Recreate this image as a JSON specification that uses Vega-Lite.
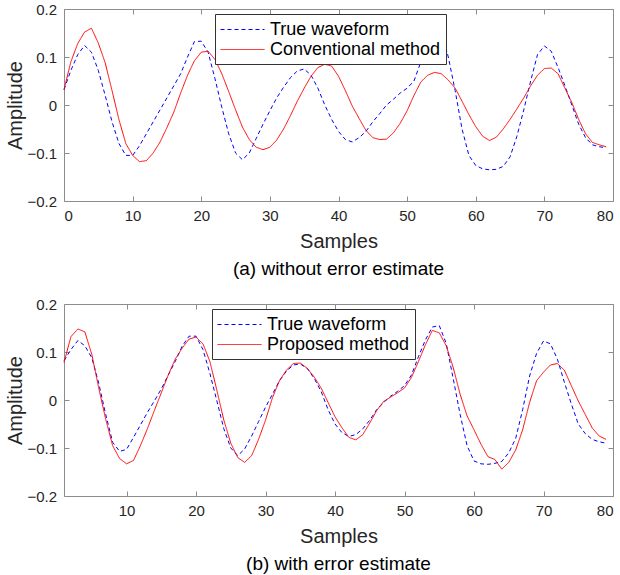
{
  "$schema": "https://vega.github.io/schema/vega-lite/v6.json",
  "padding": {"left": 5, "top": 2, "right": 0, "bottom": 0},
  "spacing": 18,
  "background": "white",
  "config": {
    "font": "Liberation Sans",
    "view": {"stroke": null},
    "axis": {
      "grid": false,
      "domainColor": "#8c8c8c",
      "tickColor": "#8c8c8c",
      "labelColor": "#262626",
      "titleColor": "#262626",
      "labelFontSize": 15,
      "titleFontSize": 20,
      "titleFontWeight": "normal",
      "tickSize": -5
    },
    "axisX": {"labelPadding": 12.5, "titlePadding": 8},
    "axisY": {"labelPadding": 12.5, "titlePadding": 1},
    "legend": {
      "orient": "none",
      "fillColor": "white",
      "strokeColor": "#333333",
      "padding": 5,
      "labelFontSize": 18,
      "labelColor": "#000000",
      "labelLimit": 400,
      "labelOffset": 29,
      "symbolType": "M-1,0H3.4",
      "symbolSize": 400,
      "symbolStrokeWidth": 1,
      "rowPadding": 0,
      "title": null
    }
  },
  "datasets": {
    "a": [
      {"s":0,"v":0.032,"k":"True waveform"},{"s":1,"v":0.072,"k":"True waveform"},{"s":2,"v":0.105,"k":"True waveform"},{"s":3,"v":0.124,"k":"True waveform"},{"s":4,"v":0.110,"k":"True waveform"},{"s":5,"v":0.072,"k":"True waveform"},{"s":6,"v":0.020,"k":"True waveform"},{"s":7,"v":-0.035,"k":"True waveform"},{"s":8,"v":-0.080,"k":"True waveform"},{"s":9,"v":-0.105,"k":"True waveform"},
      {"s":10,"v":-0.105,"k":"True waveform"},{"s":11,"v":-0.085,"k":"True waveform"},{"s":12,"v":-0.060,"k":"True waveform"},{"s":13,"v":-0.035,"k":"True waveform"},{"s":14,"v":-0.010,"k":"True waveform"},{"s":15,"v":0.015,"k":"True waveform"},{"s":16,"v":0.040,"k":"True waveform"},{"s":17,"v":0.065,"k":"True waveform"},{"s":18,"v":0.100,"k":"True waveform"},{"s":19,"v":0.132,"k":"True waveform"},
      {"s":20,"v":0.133,"k":"True waveform"},{"s":21,"v":0.110,"k":"True waveform"},{"s":22,"v":0.055,"k":"True waveform"},{"s":23,"v":-0.005,"k":"True waveform"},{"s":24,"v":-0.060,"k":"True waveform"},{"s":25,"v":-0.100,"k":"True waveform"},{"s":26,"v":-0.114,"k":"True waveform"},{"s":27,"v":-0.100,"k":"True waveform"},{"s":28,"v":-0.070,"k":"True waveform"},{"s":29,"v":-0.040,"k":"True waveform"},
      {"s":30,"v":-0.012,"k":"True waveform"},{"s":31,"v":0.015,"k":"True waveform"},{"s":32,"v":0.037,"k":"True waveform"},{"s":33,"v":0.057,"k":"True waveform"},{"s":34,"v":0.071,"k":"True waveform"},{"s":35,"v":0.075,"k":"True waveform"},{"s":36,"v":0.062,"k":"True waveform"},{"s":37,"v":0.035,"k":"True waveform"},{"s":38,"v":0.000,"k":"True waveform"},{"s":39,"v":-0.030,"k":"True waveform"},
      {"s":40,"v":-0.055,"k":"True waveform"},{"s":41,"v":-0.072,"k":"True waveform"},{"s":42,"v":-0.077,"k":"True waveform"},{"s":43,"v":-0.068,"k":"True waveform"},{"s":44,"v":-0.055,"k":"True waveform"},{"s":45,"v":-0.035,"k":"True waveform"},{"s":46,"v":-0.018,"k":"True waveform"},{"s":47,"v":0.000,"k":"True waveform"},{"s":48,"v":0.012,"k":"True waveform"},{"s":49,"v":0.025,"k":"True waveform"},
      {"s":50,"v":0.035,"k":"True waveform"},{"s":51,"v":0.050,"k":"True waveform"},{"s":52,"v":0.090,"k":"True waveform"},{"s":53,"v":0.125,"k":"True waveform"},{"s":54,"v":0.150,"k":"True waveform"},{"s":55,"v":0.155,"k":"True waveform"},{"s":56,"v":0.100,"k":"True waveform"},{"s":57,"v":0.030,"k":"True waveform"},{"s":58,"v":-0.050,"k":"True waveform"},{"s":59,"v":-0.105,"k":"True waveform"},
      {"s":60,"v":-0.126,"k":"True waveform"},{"s":61,"v":-0.133,"k":"True waveform"},{"s":62,"v":-0.135,"k":"True waveform"},{"s":63,"v":-0.134,"k":"True waveform"},{"s":64,"v":-0.128,"k":"True waveform"},{"s":65,"v":-0.108,"k":"True waveform"},{"s":66,"v":-0.065,"k":"True waveform"},{"s":67,"v":-0.010,"k":"True waveform"},{"s":68,"v":0.050,"k":"True waveform"},{"s":69,"v":0.105,"k":"True waveform"},
      {"s":70,"v":0.123,"k":"True waveform"},{"s":71,"v":0.112,"k":"True waveform"},{"s":72,"v":0.078,"k":"True waveform"},{"s":73,"v":0.040,"k":"True waveform"},{"s":74,"v":0.000,"k":"True waveform"},{"s":75,"v":-0.040,"k":"True waveform"},{"s":76,"v":-0.068,"k":"True waveform"},{"s":77,"v":-0.083,"k":"True waveform"},{"s":78,"v":-0.087,"k":"True waveform"},{"s":79,"v":-0.089,"k":"True waveform"},
      {"s":0,"v":0.032,"k":"Conventional method"},{"s":1,"v":0.090,"k":"Conventional method"},{"s":2,"v":0.128,"k":"Conventional method"},{"s":3,"v":0.152,"k":"Conventional method"},{"s":4,"v":0.160,"k":"Conventional method"},{"s":5,"v":0.129,"k":"Conventional method"},{"s":6,"v":0.088,"k":"Conventional method"},{"s":7,"v":0.030,"k":"Conventional method"},{"s":8,"v":-0.030,"k":"Conventional method"},{"s":9,"v":-0.080,"k":"Conventional method"},
      {"s":10,"v":-0.105,"k":"Conventional method"},{"s":11,"v":-0.118,"k":"Conventional method"},{"s":12,"v":-0.116,"k":"Conventional method"},{"s":13,"v":-0.100,"k":"Conventional method"},{"s":14,"v":-0.077,"k":"Conventional method"},{"s":15,"v":-0.047,"k":"Conventional method"},{"s":16,"v":-0.015,"k":"Conventional method"},{"s":17,"v":0.025,"k":"Conventional method"},{"s":18,"v":0.062,"k":"Conventional method"},{"s":19,"v":0.092,"k":"Conventional method"},
      {"s":20,"v":0.110,"k":"Conventional method"},{"s":21,"v":0.112,"k":"Conventional method"},{"s":22,"v":0.095,"k":"Conventional method"},{"s":23,"v":0.065,"k":"Conventional method"},{"s":24,"v":0.028,"k":"Conventional method"},{"s":25,"v":-0.010,"k":"Conventional method"},{"s":26,"v":-0.046,"k":"Conventional method"},{"s":27,"v":-0.072,"k":"Conventional method"},{"s":28,"v":-0.088,"k":"Conventional method"},{"s":29,"v":-0.093,"k":"Conventional method"},
      {"s":30,"v":-0.088,"k":"Conventional method"},{"s":31,"v":-0.073,"k":"Conventional method"},{"s":32,"v":-0.050,"k":"Conventional method"},{"s":33,"v":-0.022,"k":"Conventional method"},{"s":34,"v":0.008,"k":"Conventional method"},{"s":35,"v":0.035,"k":"Conventional method"},{"s":36,"v":0.060,"k":"Conventional method"},{"s":37,"v":0.078,"k":"Conventional method"},{"s":38,"v":0.085,"k":"Conventional method"},{"s":39,"v":0.081,"k":"Conventional method"},
      {"s":40,"v":0.060,"k":"Conventional method"},{"s":41,"v":0.030,"k":"Conventional method"},{"s":42,"v":-0.002,"k":"Conventional method"},{"s":43,"v":-0.028,"k":"Conventional method"},{"s":44,"v":-0.053,"k":"Conventional method"},{"s":45,"v":-0.068,"k":"Conventional method"},{"s":46,"v":-0.072,"k":"Conventional method"},{"s":47,"v":-0.071,"k":"Conventional method"},{"s":48,"v":-0.058,"k":"Conventional method"},{"s":49,"v":-0.038,"k":"Conventional method"},
      {"s":50,"v":-0.012,"k":"Conventional method"},{"s":51,"v":0.020,"k":"Conventional method"},{"s":52,"v":0.048,"k":"Conventional method"},{"s":53,"v":0.062,"k":"Conventional method"},{"s":54,"v":0.068,"k":"Conventional method"},{"s":55,"v":0.065,"k":"Conventional method"},{"s":56,"v":0.052,"k":"Conventional method"},{"s":57,"v":0.035,"k":"Conventional method"},{"s":58,"v":0.008,"k":"Conventional method"},{"s":59,"v":-0.020,"k":"Conventional method"},
      {"s":60,"v":-0.045,"k":"Conventional method"},{"s":61,"v":-0.065,"k":"Conventional method"},{"s":62,"v":-0.074,"k":"Conventional method"},{"s":63,"v":-0.067,"k":"Conventional method"},{"s":64,"v":-0.050,"k":"Conventional method"},{"s":65,"v":-0.030,"k":"Conventional method"},{"s":66,"v":-0.008,"k":"Conventional method"},{"s":67,"v":0.015,"k":"Conventional method"},{"s":68,"v":0.040,"k":"Conventional method"},{"s":69,"v":0.062,"k":"Conventional method"},
      {"s":70,"v":0.076,"k":"Conventional method"},{"s":71,"v":0.077,"k":"Conventional method"},{"s":72,"v":0.065,"k":"Conventional method"},{"s":73,"v":0.035,"k":"Conventional method"},{"s":74,"v":0.005,"k":"Conventional method"},{"s":75,"v":-0.030,"k":"Conventional method"},{"s":76,"v":-0.060,"k":"Conventional method"},{"s":77,"v":-0.078,"k":"Conventional method"},{"s":78,"v":-0.083,"k":"Conventional method"},{"s":79,"v":-0.087,"k":"Conventional method"}
    ],
    "b": [
      {"s":1,"v":0.082,"k":"True waveform"},{"s":2,"v":0.105,"k":"True waveform"},{"s":3,"v":0.124,"k":"True waveform"},{"s":4,"v":0.113,"k":"True waveform"},{"s":5,"v":0.088,"k":"True waveform"},{"s":6,"v":0.035,"k":"True waveform"},{"s":7,"v":-0.030,"k":"True waveform"},{"s":8,"v":-0.088,"k":"True waveform"},{"s":9,"v":-0.107,"k":"True waveform"},
      {"s":10,"v":-0.103,"k":"True waveform"},{"s":11,"v":-0.078,"k":"True waveform"},{"s":12,"v":-0.052,"k":"True waveform"},{"s":13,"v":-0.026,"k":"True waveform"},{"s":14,"v":-0.002,"k":"True waveform"},{"s":15,"v":0.023,"k":"True waveform"},{"s":16,"v":0.052,"k":"True waveform"},{"s":17,"v":0.080,"k":"True waveform"},{"s":18,"v":0.112,"k":"True waveform"},{"s":19,"v":0.133,"k":"True waveform"},
      {"s":20,"v":0.133,"k":"True waveform"},{"s":21,"v":0.105,"k":"True waveform"},{"s":22,"v":0.055,"k":"True waveform"},{"s":23,"v":-0.002,"k":"True waveform"},{"s":24,"v":-0.060,"k":"True waveform"},{"s":25,"v":-0.100,"k":"True waveform"},{"s":26,"v":-0.116,"k":"True waveform"},{"s":27,"v":-0.102,"k":"True waveform"},{"s":28,"v":-0.075,"k":"True waveform"},{"s":29,"v":-0.045,"k":"True waveform"},
      {"s":30,"v":-0.015,"k":"True waveform"},{"s":31,"v":0.012,"k":"True waveform"},{"s":32,"v":0.040,"k":"True waveform"},{"s":33,"v":0.060,"k":"True waveform"},{"s":34,"v":0.073,"k":"True waveform"},{"s":35,"v":0.075,"k":"True waveform"},{"s":36,"v":0.066,"k":"True waveform"},{"s":37,"v":0.045,"k":"True waveform"},{"s":38,"v":0.018,"k":"True waveform"},{"s":39,"v":-0.020,"k":"True waveform"},
      {"s":40,"v":-0.050,"k":"True waveform"},{"s":41,"v":-0.068,"k":"True waveform"},{"s":42,"v":-0.076,"k":"True waveform"},{"s":43,"v":-0.072,"k":"True waveform"},{"s":44,"v":-0.060,"k":"True waveform"},{"s":45,"v":-0.042,"k":"True waveform"},{"s":46,"v":-0.020,"k":"True waveform"},{"s":47,"v":-0.005,"k":"True waveform"},{"s":48,"v":0.008,"k":"True waveform"},{"s":49,"v":0.018,"k":"True waveform"},
      {"s":50,"v":0.030,"k":"True waveform"},{"s":51,"v":0.052,"k":"True waveform"},{"s":52,"v":0.090,"k":"True waveform"},{"s":53,"v":0.125,"k":"True waveform"},{"s":54,"v":0.152,"k":"True waveform"},{"s":55,"v":0.155,"k":"True waveform"},{"s":56,"v":0.118,"k":"True waveform"},{"s":57,"v":0.045,"k":"True waveform"},{"s":58,"v":-0.030,"k":"True waveform"},{"s":59,"v":-0.095,"k":"True waveform"},
      {"s":60,"v":-0.127,"k":"True waveform"},{"s":61,"v":-0.133,"k":"True waveform"},{"s":62,"v":-0.134,"k":"True waveform"},{"s":63,"v":-0.132,"k":"True waveform"},{"s":64,"v":-0.128,"k":"True waveform"},{"s":65,"v":-0.110,"k":"True waveform"},{"s":66,"v":-0.080,"k":"True waveform"},{"s":67,"v":-0.020,"k":"True waveform"},{"s":68,"v":0.050,"k":"True waveform"},{"s":69,"v":0.097,"k":"True waveform"},
      {"s":70,"v":0.123,"k":"True waveform"},{"s":71,"v":0.117,"k":"True waveform"},{"s":72,"v":0.085,"k":"True waveform"},{"s":73,"v":0.037,"k":"True waveform"},{"s":74,"v":-0.008,"k":"True waveform"},{"s":75,"v":-0.050,"k":"True waveform"},{"s":76,"v":-0.070,"k":"True waveform"},{"s":77,"v":-0.082,"k":"True waveform"},{"s":78,"v":-0.087,"k":"True waveform"},{"s":79,"v":-0.090,"k":"True waveform"},
      {"s":1,"v":0.078,"k":"Proposed method"},{"s":2,"v":0.132,"k":"Proposed method"},{"s":3,"v":0.148,"k":"Proposed method"},{"s":4,"v":0.142,"k":"Proposed method"},{"s":5,"v":0.095,"k":"Proposed method"},{"s":6,"v":0.025,"k":"Proposed method"},{"s":7,"v":-0.040,"k":"Proposed method"},{"s":8,"v":-0.095,"k":"Proposed method"},{"s":9,"v":-0.122,"k":"Proposed method"},
      {"s":10,"v":-0.133,"k":"Proposed method"},{"s":11,"v":-0.126,"k":"Proposed method"},{"s":12,"v":-0.095,"k":"Proposed method"},{"s":13,"v":-0.060,"k":"Proposed method"},{"s":14,"v":-0.022,"k":"Proposed method"},{"s":15,"v":0.015,"k":"Proposed method"},{"s":16,"v":0.052,"k":"Proposed method"},{"s":17,"v":0.085,"k":"Proposed method"},{"s":18,"v":0.108,"k":"Proposed method"},{"s":19,"v":0.127,"k":"Proposed method"},
      {"s":20,"v":0.131,"k":"Proposed method"},{"s":21,"v":0.117,"k":"Proposed method"},{"s":22,"v":0.080,"k":"Proposed method"},{"s":23,"v":0.020,"k":"Proposed method"},{"s":24,"v":-0.042,"k":"Proposed method"},{"s":25,"v":-0.090,"k":"Proposed method"},{"s":26,"v":-0.120,"k":"Proposed method"},{"s":27,"v":-0.130,"k":"Proposed method"},{"s":28,"v":-0.116,"k":"Proposed method"},{"s":29,"v":-0.082,"k":"Proposed method"},
      {"s":30,"v":-0.042,"k":"Proposed method"},{"s":31,"v":0.005,"k":"Proposed method"},{"s":32,"v":0.040,"k":"Proposed method"},{"s":33,"v":0.062,"k":"Proposed method"},{"s":34,"v":0.076,"k":"Proposed method"},{"s":35,"v":0.077,"k":"Proposed method"},{"s":36,"v":0.066,"k":"Proposed method"},{"s":37,"v":0.048,"k":"Proposed method"},{"s":38,"v":0.025,"k":"Proposed method"},{"s":39,"v":-0.005,"k":"Proposed method"},
      {"s":40,"v":-0.035,"k":"Proposed method"},{"s":41,"v":-0.058,"k":"Proposed method"},{"s":42,"v":-0.078,"k":"Proposed method"},{"s":43,"v":-0.083,"k":"Proposed method"},{"s":44,"v":-0.072,"k":"Proposed method"},{"s":45,"v":-0.048,"k":"Proposed method"},{"s":46,"v":-0.022,"k":"Proposed method"},{"s":47,"v":-0.003,"k":"Proposed method"},{"s":48,"v":0.006,"k":"Proposed method"},{"s":49,"v":0.015,"k":"Proposed method"},
      {"s":50,"v":0.025,"k":"Proposed method"},{"s":51,"v":0.047,"k":"Proposed method"},{"s":52,"v":0.080,"k":"Proposed method"},{"s":53,"v":0.115,"k":"Proposed method"},{"s":54,"v":0.145,"k":"Proposed method"},{"s":55,"v":0.140,"k":"Proposed method"},{"s":56,"v":0.113,"k":"Proposed method"},{"s":57,"v":0.068,"k":"Proposed method"},{"s":58,"v":0.012,"k":"Proposed method"},{"s":59,"v":-0.033,"k":"Proposed method"},
      {"s":60,"v":-0.062,"k":"Proposed method"},{"s":61,"v":-0.092,"k":"Proposed method"},{"s":62,"v":-0.118,"k":"Proposed method"},{"s":63,"v":-0.124,"k":"Proposed method"},{"s":64,"v":-0.144,"k":"Proposed method"},{"s":65,"v":-0.130,"k":"Proposed method"},{"s":66,"v":-0.104,"k":"Proposed method"},{"s":67,"v":-0.062,"k":"Proposed method"},{"s":68,"v":-0.005,"k":"Proposed method"},{"s":69,"v":0.040,"k":"Proposed method"},
      {"s":70,"v":0.058,"k":"Proposed method"},{"s":71,"v":0.073,"k":"Proposed method"},{"s":72,"v":0.076,"k":"Proposed method"},{"s":73,"v":0.062,"k":"Proposed method"},{"s":74,"v":0.030,"k":"Proposed method"},{"s":75,"v":-0.002,"k":"Proposed method"},{"s":76,"v":-0.030,"k":"Proposed method"},{"s":77,"v":-0.058,"k":"Proposed method"},{"s":78,"v":-0.075,"k":"Proposed method"},{"s":79,"v":-0.082,"k":"Proposed method"}
    ]
  },
  "resolve": {
    "scale": {"x": "independent", "y": "independent", "color": "independent", "strokeDash": "independent"},
    "legend": {"color": "independent", "strokeDash": "independent"}
  },
  "vconcat": [
    {
      "width": 549,
      "height": 192,
      "data": {"name": "a"},
      "title": {"text": "(a) without error estimate", "orient": "bottom", "fontSize": 19, "fontWeight": "normal", "color": "#000000", "offset": 8},
      "layer": [
        {
          "mark": {"type": "line", "strokeWidth": 1},
          "encoding": {
            "x": {"field": "s", "type": "quantitative", "scale": {"domain": [0, 80], "nice": false}, "axis": {"title": "Samples", "values": [0,10,20,30,40,50,60,70,80]}},
            "y": {"field": "v", "type": "quantitative", "scale": {"domain": [-0.2, 0.2], "nice": false}, "axis": {"title": "Amplitude", "values": [-0.2,-0.1,0,0.1,0.2], "format": "~g"}},
            "color": {"field": "k", "type": "nominal", "scale": {"domain": ["True waveform", "Conventional method"], "range": ["#0000ff", "#ff0000"]}, "legend": {"legendX": 151, "legendY": 5}},
            "strokeDash": {"field": "k", "type": "nominal", "scale": {"domain": ["True waveform", "Conventional method"], "range": [[4, 3], [1, 0]]}, "legend": {"legendX": 151, "legendY": 5}}
          }
        },
        {
          "mark": {"type": "line", "opacity": 0},
          "encoding": {
            "x": {"field": "s", "type": "quantitative", "axis": {"orient": "top", "labels": false, "title": null, "values": [0,10,20,30,40,50,60,70,80], "minExtent": 0, "maxExtent": 0, "labelPadding": 0}},
            "y": {"field": "v", "type": "quantitative", "axis": {"orient": "right", "labels": false, "title": null, "values": [-0.2,-0.1,0,0.1,0.2], "minExtent": 0, "maxExtent": 0, "labelPadding": 0}},
            "detail": {"field": "k"}
          }
        }
      ],
      "resolve": {"axis": {"x": "independent", "y": "independent"}}
    },
    {
      "width": 549,
      "height": 192,
      "data": {"name": "b"},
      "title": {"text": "(b) with error estimate", "orient": "bottom", "fontSize": 19, "fontWeight": "normal", "color": "#000000", "offset": 8},
      "layer": [
        {
          "mark": {"type": "line", "strokeWidth": 1},
          "encoding": {
            "x": {"field": "s", "type": "quantitative", "scale": {"domain": [1, 80], "nice": false}, "axis": {"title": "Samples", "values": [10,20,30,40,50,60,70,80]}},
            "y": {"field": "v", "type": "quantitative", "scale": {"domain": [-0.2, 0.2], "nice": false}, "axis": {"title": "Amplitude", "values": [-0.2,-0.1,0,0.1,0.2], "format": "~g"}},
            "color": {"field": "k", "type": "nominal", "scale": {"domain": ["True waveform", "Proposed method"], "range": ["#0000ff", "#ff0000"]}, "legend": {"legendX": 148, "legendY": 5}},
            "strokeDash": {"field": "k", "type": "nominal", "scale": {"domain": ["True waveform", "Proposed method"], "range": [[4, 3], [1, 0]]}, "legend": {"legendX": 148, "legendY": 5}}
          }
        },
        {
          "mark": {"type": "line", "opacity": 0},
          "encoding": {
            "x": {"field": "s", "type": "quantitative", "axis": {"orient": "top", "labels": false, "title": null, "values": [10,20,30,40,50,60,70,80], "minExtent": 0, "maxExtent": 0, "labelPadding": 0}},
            "y": {"field": "v", "type": "quantitative", "axis": {"orient": "right", "labels": false, "title": null, "values": [-0.2,-0.1,0,0.1,0.2], "minExtent": 0, "maxExtent": 0, "labelPadding": 0}},
            "detail": {"field": "k"}
          }
        }
      ],
      "resolve": {"axis": {"x": "independent", "y": "independent"}}
    }
  ]
}
